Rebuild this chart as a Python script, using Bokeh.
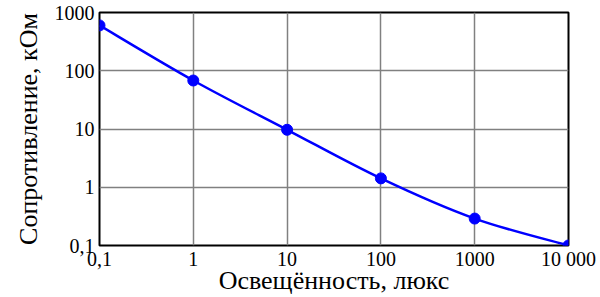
import numpy as np
from bokeh.plotting import figure
from bokeh.models import FixedTicker
from bokeh.embed import file_html
from bokeh.resources import INLINE

# data
lux = [0.1, 1, 10, 100, 1000, 10000]
resistance = [600, 68, 9.7, 1.42, 0.29, 0.1]
x_ticks = [0.1, 1, 10, 100, 1000, 10000]
x_tick_labels = ["0,1", "1", "10", "100", "1000", "10 000"]
y_ticks = [0.1, 1, 10, 100, 1000]
y_tick_labels = ["0,1", "1", "10", "100", "1000"]
x_title = "Освещённость, люкс"
y_title = "Сопротивление, кОм"

FONT = "'Liberation Serif', 'Times New Roman', serif"
TITLE_FONT = "'Liberation Serif', 'DejaVu Serif', serif"

p = figure(width=600, height=297, x_axis_type="log", y_axis_type="log",
           x_range=(0.1, 10000), y_range=(0.1, 1000),
           output_backend="svg", toolbar_location=None,
           min_border_left=99, min_border_right=32, min_border_top=12, min_border_bottom=52)
p.background_fill_color = "white"
p.border_fill_color = "white"
p.outline_line_color = "black"
p.outline_line_width = 2

# smooth curve through points (Catmull-Rom in log space, drawn as beziers)
lx = np.log10(lux)
ly = np.log10(resistance)
n = len(lx)
x0, y0, x1, y1, cx0, cy0, cx1, cy1 = [], [], [], [], [], [], [], []
for i in range(n - 1):
    pxm = lx[i - 1] if i > 0 else lx[i]
    pym = ly[i - 1] if i > 0 else ly[i]
    pxp = lx[i + 2] if i + 2 < n else lx[i + 1]
    pyp = ly[i + 2] if i + 2 < n else ly[i + 1]
    x0.append(10 ** lx[i]); y0.append(10 ** ly[i])
    x1.append(10 ** lx[i + 1]); y1.append(10 ** ly[i + 1])
    cx0.append(10 ** (lx[i] + (lx[i + 1] - pxm) / 6)); cy0.append(10 ** (ly[i] + (ly[i + 1] - pym) / 6))
    cx1.append(10 ** (lx[i + 1] - (pxp - lx[i]) / 6)); cy1.append(10 ** (ly[i + 1] - (pyp - ly[i]) / 6))
p.bezier(x0=x0, y0=y0, x1=x1, y1=y1, cx0=cx0, cy0=cy0, cx1=cx1, cy1=cy1,
         line_color="#0000ff", line_width=2.5)
p.scatter(lux, resistance, size=11, color="#0000ff")

for ax in (p.xaxis[0], p.yaxis[0]):
    ax.axis_line_color = None
    ax.major_tick_line_color = None
    ax.minor_tick_line_color = None
    ax.major_tick_out = 0
    ax.major_tick_in = 0
    ax.minor_tick_out = 0
    ax.minor_tick_in = 0
    ax.major_label_text_font = FONT
    ax.major_label_text_font_size = "20px"
    ax.major_label_text_color = "black"
    ax.axis_label_text_font = TITLE_FONT
    ax.axis_label_text_font_size = "26px"
    ax.axis_label_text_font_style = "normal"
    ax.axis_label_text_color = "black"

p.xaxis.ticker = FixedTicker(ticks=x_ticks)
p.yaxis.ticker = FixedTicker(ticks=y_ticks)
p.xaxis.major_label_overrides = {t: l for t, l in zip(x_ticks, x_tick_labels)}
p.yaxis.major_label_overrides = {t: l for t, l in zip(y_ticks, y_tick_labels)}
p.xaxis.major_label_standoff = 2
p.yaxis.major_label_standoff = 5
p.xaxis.axis_label = x_title
p.yaxis.axis_label = y_title
p.xaxis.axis_label_standoff = -7
p.yaxis.axis_label_standoff = 9

p.grid.grid_line_color = "#808080"
p.grid.grid_line_width = 1.5
p.xgrid.ticker = FixedTicker(ticks=x_ticks)
p.ygrid.ticker = FixedTicker(ticks=y_ticks)

open("out.html", "w").write(file_html(p, INLINE))
